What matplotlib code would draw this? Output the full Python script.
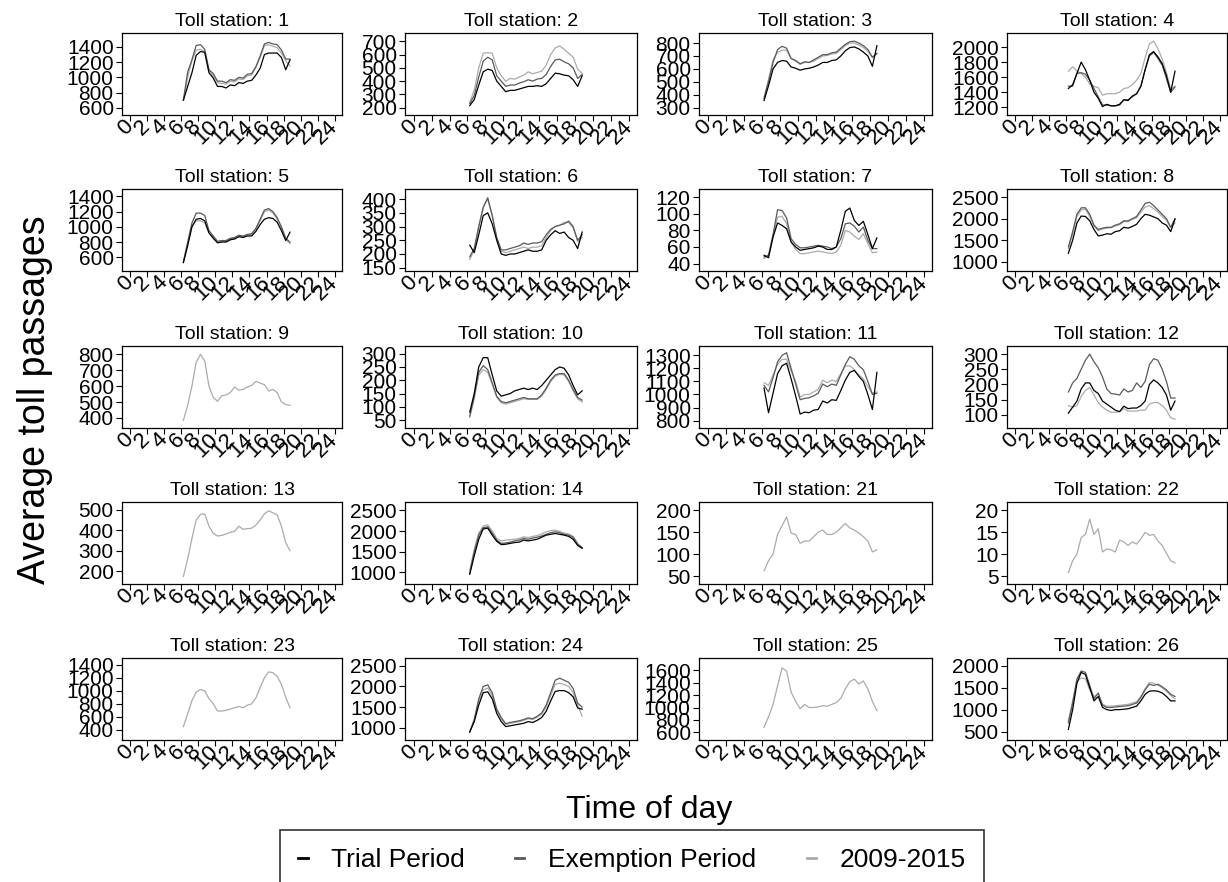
import matplotlib
matplotlib.use("Agg")
import matplotlib.pyplot as plt
from matplotlib.lines import Line2D
import numpy as np

plt.rcParams['font.family'] = ['Liberation Sans', 'DejaVu Sans']

## data: average toll passages per half hour ##
hours = [6.25, 6.75, 7.25, 7.75, 8.25, 8.75, 9.25, 9.75, 10.25, 10.75, 11.25, 11.75, 12.25,
         12.75, 13.25, 13.75, 14.25, 14.75, 15.25, 15.75, 16.25, 16.75, 17.25, 17.75, 18.25, 18.75]

stations = [1, 2, 3, 4, 5, 6, 7, 8, 9, 10, 11, 12, 13, 14, 21, 22, 23, 24, 25, 26]

series_names = ['Trial Period', 'Exemption Period', '2009-2015']

trial = {
    1: [700, 880, 1060, 1290, 1340, 1330, 1060, 990, 880, 880, 860, 900, 890, 930, 920, 950, 960, 1030, 1120, 1300, 1320, 1320, 1320, 1260, 1100, 1230],
    2: [215, 260, 370, 470, 490, 480, 400, 360, 320, 330, 330, 340, 350, 360, 360, 365, 360, 380, 420, 460, 455, 445, 440, 410, 360, 440],
    3: [355, 470, 600, 650, 665, 660, 615, 605, 590, 600, 605, 615, 630, 650, 650, 665, 670, 700, 740, 765, 770, 755, 730, 700, 620, 780],
    4: [1450, 1500, 1650, 1800, 1700, 1560, 1400, 1320, 1210, 1240, 1220, 1220, 1240, 1300, 1290, 1350, 1380, 1480, 1700, 1900, 1940, 1870, 1780, 1620, 1400, 1680],
    5: [530, 750, 1000, 1100, 1110, 1080, 920, 850, 790, 800, 800, 830, 840, 870, 860, 880, 880, 940, 1030, 1100, 1120, 1110, 1060, 950, 820, 930],
    6: [232, 205, 270, 340, 350, 310, 250, 200, 195, 200, 200, 205, 210, 215, 210, 210, 215, 250, 270, 285, 275, 280, 260, 250, 220, 280],
    7: [50, 47, 72, 89, 86, 82, 66, 60, 56, 57, 58, 59, 61, 60, 57, 57, 60, 80, 103, 107, 92, 86, 91, 75, 58, 71],
    8: [1200, 1500, 1900, 2060, 2050, 1950, 1750, 1600, 1620, 1650, 1640, 1700, 1720, 1800, 1780, 1820, 1870, 2000, 2100, 2080, 2040, 2000, 1900, 1850, 1700, 1990],
    10: [80, 150, 250, 285, 285, 220, 160, 140, 145, 150, 160, 165, 170, 165, 170, 165, 180, 200, 220, 240, 250, 245, 220, 180, 145, 160],
    11: [1050, 860, 1010, 1160, 1220, 1240, 1120, 990, 850, 865, 860, 880, 885, 950, 935, 960, 955, 1030, 1110, 1170, 1185, 1140, 1100, 1000, 885, 1170],
    12: [105, 125, 145, 185, 205, 205, 180, 170, 145, 135, 125, 115, 110, 128, 120, 122, 122, 130, 145, 200, 215, 205, 190, 165, 115, 145],
    14: [950, 1400, 1800, 2050, 2070, 1900, 1750, 1670, 1680, 1700, 1720, 1730, 1780, 1760, 1780, 1800, 1850, 1900, 1920, 1940, 1920, 1900, 1870, 1800, 1650, 1580],
    24: [900, 1150, 1550, 1850, 1870, 1700, 1350, 1150, 1030, 1050, 1070, 1090, 1110, 1150, 1130, 1180, 1250, 1400, 1650, 1880, 1900, 1900, 1850, 1750, 1480, 1450],
    26: [550, 1000, 1600, 1850, 1800, 1500, 1200, 1300, 1050, 1000, 980, 1000, 1000, 1010, 1020, 1050, 1080, 1200, 1350, 1420, 1430, 1420, 1380, 1300, 1200, 1200],
}

exemption = {
    1: [700, 1070, 1230, 1420, 1430, 1370, 1100, 1050, 950, 950, 930, 970, 960, 1000, 990, 1040, 1050, 1140, 1280, 1440, 1460, 1440, 1430, 1360, 1240, 1240],
    2: [230, 290, 430, 550, 580, 560, 440, 400, 360, 370, 370, 385, 395, 410, 400, 415, 420, 450, 510, 560, 565, 545, 530, 500, 420, 450],
    3: [370, 500, 650, 750, 775, 760, 680, 665, 640, 655, 650, 670, 690, 710, 710, 725, 730, 760, 790, 810, 815, 800, 780, 750, 690, 720],
    4: [1480, 1480, 1650, 1660, 1640, 1560, 1450, 1340, 1230, 1230, 1220, 1220, 1230, 1300, 1300, 1340, 1380, 1480, 1700, 1880, 1930, 1850, 1760, 1580, 1400, 1470],
    5: [540, 800, 1050, 1180, 1180, 1150, 950, 880, 810, 820, 820, 850, 860, 890, 880, 900, 910, 980, 1100, 1220, 1240, 1200, 1120, 1000, 850, 800],
    6: [190, 220, 300, 370, 405, 340, 260, 215, 215, 220, 225, 230, 240, 235, 240, 240, 245, 270, 290, 300, 305, 310, 320, 300, 250, 270],
    7: [48, 50, 75, 105, 104, 95, 70, 63, 59, 59, 60, 61, 62, 61, 60, 58, 60, 70, 88, 89, 85, 78, 84, 68, 58, 58],
    8: [1350, 1700, 2100, 2250, 2250, 2100, 1850, 1750, 1780, 1800, 1800, 1850, 1880, 1950, 1950, 2000, 2050, 2200, 2350, 2380, 2300, 2200, 2100, 2000, 1800, 2000],
    10: [65, 140, 230, 255, 240, 190, 140, 120, 115, 120, 125, 130, 135, 130, 130, 130, 145, 170, 200, 220, 225, 225, 200, 165, 135, 125],
    11: [1070, 1020, 1130, 1250, 1300, 1320, 1200, 1080, 960, 970, 975, 990, 1010, 1080, 1060, 1080, 1070, 1150, 1230, 1290, 1270, 1220, 1190, 1100, 1000, 1010],
    12: [175, 205, 220, 250, 280, 300, 275, 255, 225, 185, 170, 168, 165, 185, 175, 180, 205, 190, 210, 265, 285, 280, 250, 210, 155, 155],
    14: [980, 1500, 1900, 2080, 2100, 1950, 1780, 1700, 1710, 1730, 1760, 1780, 1820, 1800, 1830, 1850, 1880, 1920, 1960, 1980, 1960, 1920, 1900, 1850, 1680, 1600],
    24: [900, 1200, 1700, 2000, 2040, 1850, 1450, 1250, 1100, 1130, 1150, 1170, 1200, 1240, 1220, 1280, 1360, 1550, 1850, 2150, 2200, 2150, 2100, 1950, 1600, 1500],
    26: [700, 1150, 1700, 1880, 1850, 1550, 1250, 1380, 1100, 1050, 1050, 1060, 1070, 1080, 1090, 1120, 1150, 1280, 1450, 1580, 1550, 1580, 1520, 1450, 1350, 1300],
}

baseline = {
    1: [700, 1000, 1220, 1360, 1370, 1340, 1090, 1020, 930, 920, 910, 950, 940, 980, 970, 1020, 1030, 1130, 1260, 1420, 1430, 1410, 1390, 1320, 1220, 1150],
    2: [240, 330, 500, 610, 615, 610, 500, 440, 400, 420, 415, 430, 445, 470, 455, 465, 475, 520, 600, 650, 665, 640, 610, 580, 490, 460],
    3: [380, 520, 670, 730, 745, 745, 680, 660, 635, 650, 650, 660, 680, 700, 705, 715, 720, 750, 780, 800, 800, 785, 765, 735, 690, 720],
    4: [1680, 1740, 1680, 1650, 1600, 1510, 1480, 1460, 1360, 1380, 1380, 1380, 1400, 1450, 1460, 1500, 1560, 1650, 1860, 2040, 2080, 1980, 1840, 1660, 1440, 1480],
    5: [540, 780, 1000, 1080, 1080, 1050, 920, 860, 800, 810, 810, 840, 850, 880, 870, 890, 900, 970, 1080, 1200, 1220, 1180, 1100, 990, 830, 780],
    6: [180, 215, 300, 370, 400, 340, 260, 210, 205, 210, 215, 220, 225, 220, 225, 225, 230, 260, 285, 300, 305, 315, 315, 295, 245, 260],
    7: [46, 50, 73, 96, 97, 88, 66, 57, 52, 52, 53, 54, 55, 54, 53, 52, 54, 62, 80, 78, 73, 69, 76, 64, 53, 54],
    8: [1300, 1650, 2050, 2200, 2220, 2050, 1830, 1720, 1760, 1780, 1790, 1830, 1860, 1930, 1930, 1980, 2020, 2150, 2270, 2300, 2230, 2150, 2050, 1960, 1800, 1900],
    9: [385, 480, 600, 750, 800, 760, 600, 530, 505, 540, 545, 560, 595, 575, 580, 595, 605, 630, 620, 610, 570, 580, 560, 500, 485, 480],
    10: [60, 130, 220, 240, 230, 185, 135, 115, 110, 115, 120, 125, 130, 128, 128, 128, 140, 165, 195, 215, 222, 220, 195, 160, 130, 118],
    11: [1090, 1070, 1150, 1230, 1270, 1270, 1180, 1100, 980, 1000, 1000, 1020, 1040, 1110, 1090, 1110, 1100, 1160, 1220, 1220, 1190, 1150, 1120, 1060, 1010, 1020],
    12: [130, 125, 130, 160, 180, 190, 165, 140, 125, 115, 108, 108, 110, 120, 112, 112, 112, 115, 115, 135, 140, 140, 130, 115, 90, 85],
    13: [175, 260, 360, 450, 478, 480, 420, 385, 372, 375, 382, 390, 395, 420, 405, 408, 410, 425, 450, 480, 495, 485, 475, 420, 340, 300],
    14: [1050, 1550, 1950, 2120, 2150, 2000, 1820, 1760, 1780, 1790, 1800, 1820, 1860, 1840, 1870, 1890, 1930, 1980, 2010, 2020, 1990, 1950, 1930, 1870, 1700, 1590],
    21: [62, 85, 100, 145, 165, 185, 148, 145, 125, 130, 130, 140, 150, 155, 145, 145, 150, 160, 170, 160, 155, 148, 140, 130, 105, 110],
    22: [5.8, 8.5, 10.0, 13.8, 14.5, 18.0, 14.5, 15.8, 10.5, 11.2, 11.0, 10.5, 13.2, 12.8, 12.0, 12.8, 12.3, 13.5, 15.0, 14.3, 14.5, 13.0, 12.0, 10.2, 8.5, 8.0],
    23: [450, 650, 850, 980, 1020, 1000, 880, 800, 690, 690, 700, 720, 740, 760, 740, 780, 800, 890, 1050, 1200, 1290, 1280, 1220, 1100, 900, 740],
    24: [900, 1180, 1650, 1920, 1960, 1780, 1420, 1220, 1080, 1110, 1130, 1150, 1180, 1220, 1200, 1260, 1330, 1500, 1780, 2050, 2080, 2050, 2000, 1850, 1550, 1280],
    25: [680, 850, 1050, 1350, 1640, 1590, 1250, 1100, 980, 1050, 1000, 1000, 1010, 1030, 1020, 1050, 1080, 1150, 1300, 1420, 1460, 1380, 1430, 1300, 1100, 950],
    26: [750, 1200, 1650, 1720, 1700, 1450, 1300, 1350, 1120, 1080, 1080, 1090, 1100, 1110, 1120, 1150, 1180, 1300, 1480, 1620, 1600, 1560, 1500, 1420, 1320, 1250],
}

# y axis: (first tick, last tick, step) and limits per station
y_ticks = {1: (600, 1400, 200), 2: (200, 700, 100), 3: (300, 800, 100), 4: (1200, 2000, 200),
           5: (600, 1400, 200), 6: (150, 400, 50), 7: (40, 120, 20), 8: (1000, 2500, 500),
           9: (400, 800, 100), 10: (50, 300, 50), 11: (800, 1300, 100), 12: (100, 300, 50),
           13: (200, 500, 100), 14: (1000, 2500, 500), 21: (50, 200, 50), 22: (5, 20, 5),
           23: (400, 1400, 200), 24: (1000, 2500, 500), 25: (600, 1600, 200), 26: (500, 2000, 500)}
y_limits = {1: (504, 1584), 2: (144, 763), 3: (243, 878), 4: (1098, 2187), 5: (420, 1497),
            6: (138, 437), 7: (31, 130), 8: (790, 2685), 9: (337, 853), 10: (20, 329),
            11: (743, 1372), 12: (56, 327), 13: (138, 538), 14: (716, 2703), 21: (32, 219),
            22: (3.2, 21.9), 23: (245, 1504), 24: (706, 2688), 25: (474, 1802), 26: (308, 2177)}

## layout (pixels) ##
W, H = 1228, 882
col_left = [122, 405, 699, 1007]
col_width = [220, 232, 233, 220]
row_top = [33, 189, 346, 502, 658]
panel_h = 82

colors = {'Trial Period': '#000000', 'Exemption Period': '#5a5a5a', '2009-2015': '#ababab'}

fig = plt.figure(figsize=(W / 100, H / 100), dpi=100)

for k, st in enumerate(stations):
    r, c = divmod(k, 4)
    ax = fig.add_axes([col_left[c] / W, 1 - (row_top[r] + panel_h) / H,
                       col_width[c] / W, panel_h / H])
    # draw light first so the darker lines sit on top
    for name, src in [('2009-2015', baseline), ('Exemption Period', exemption), ('Trial Period', trial)]:
        if st in src:
            ax.plot(hours, src[st], color=colors[name], lw=0.9)
    ax.set_xlim(-0.95, 24.85)
    ax.set_ylim(*y_limits[st])
    lo, hi, step = y_ticks[st]
    ax.set_yticks(np.arange(lo, hi + step / 2, step))
    ax.set_xticks(range(0, 25, 2))
    ax.tick_params(direction='out', length=4, width=0.8, pad=2)
    ax.tick_params(axis='y', labelsize=15)
    ax.tick_params(axis='x', labelsize=16)
    for lab in ax.get_xticklabels():
        lab.set_rotation(45)
        lab.set_ha('right')
        lab.set_va('center')
        lab.set_rotation_mode('anchor')
    for sp in ax.spines.values():
        sp.set_linewidth(0.9)
    ax.set_title(f"Toll station: {st}", fontsize=14, pad=5)

fig.text(35 / W, 1 - 400 / H, "Average toll passages", rotation=90,
         ha='center', va='center', fontsize=27)
fig.text(649 / W, 1 - 810 / H, "Time of day", ha='center', va='center', fontsize=23)

handles = [Line2D([], [], color=colors[n], lw=2) for n in series_names]
leg = fig.legend(handles, series_names, loc='upper center', ncol=3,
                 bbox_to_anchor=(632 / W, 1 - 830 / H), fontsize=19,
                 handlelength=0.35, handletextpad=0.9, columnspacing=1.9,
                 borderpad=0.7, borderaxespad=0, frameon=True, fancybox=False)
leg.get_frame().set_edgecolor('black')
leg.get_frame().set_linewidth(1.2)

fig.savefig("out.png", dpi=100)
